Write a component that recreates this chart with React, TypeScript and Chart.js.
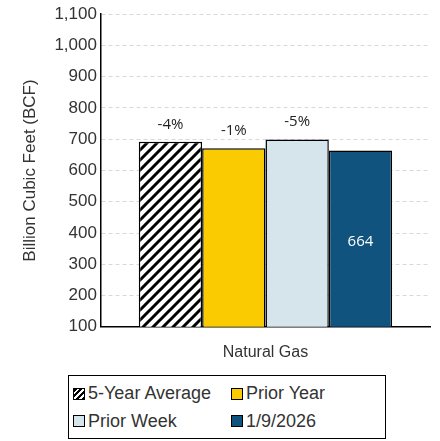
import { useEffect, useRef } from 'react';
import Chart from 'chart.js/auto';

const categories = ['Natural Gas'];
const seriesNames = ['5-Year Average', 'Prior Year', 'Prior Week', '1/9/2026'];
const seriesValues = [692, 671, 699, 664];
const seriesLabels = ['-4%', '-1%', '-5%', '664'];
const seriesColors = ['hatch', '#f9cb00', '#d6e4ec', '#0f537e'];

const FONT = '"Liberation Sans", Arial, sans-serif';

function makeHatch(): CanvasPattern | string {
    const c = document.createElement('canvas');
    c.width = 10; c.height = 10;
    const g = c.getContext('2d');
    if (!g) return '#000';
    g.fillStyle = '#fff';
    g.fillRect(0, 0, 10, 10);
    g.strokeStyle = '#000';
    g.lineWidth = 3;
    g.beginPath();
    g.moveTo(-2, 12); g.lineTo(12, -2);
    g.moveTo(-7, 7); g.lineTo(7, -7);
    g.moveTo(3, 17); g.lineTo(17, 3);
    g.stroke();
    return g.createPattern(c, 'repeat') || '#000';
}

const labelPlugin = {
    id: 'barLabels',
    afterDatasetsDraw(chart: any) {
        const ctx = chart.ctx;
        ctx.save();
        ctx.textAlign = 'center';
        chart.data.datasets.forEach((ds: any, i: number) => {
            const bar = chart.getDatasetMeta(i).data[0];
            if (!bar) return;
            if (i === 3) {
                ctx.fillStyle = '#fff';
                ctx.font = '15px "Open Sans", sans-serif';
                ctx.textBaseline = 'middle';
                ctx.fillText(seriesLabels[i], bar.x, 242);
            } else {
                ctx.fillStyle = '#222';
                ctx.font = '15px "Open Sans", sans-serif';
                ctx.textBaseline = 'bottom';
                ctx.fillText(seriesLabels[i], bar.x, bar.y - 10);
            }
        });
        ctx.restore();
    }
};

const BarChart = () => {
    const chartRef = useRef<HTMLCanvasElement>(null);
    const chartInstance = useRef<Chart | null>(null);

    useEffect(() => {
        if (!chartRef.current) return;
        if (chartInstance.current) chartInstance.current.destroy();
        const ctx = chartRef.current.getContext('2d');
        if (!ctx) return;
        const hatch = makeHatch();

        chartInstance.current = new Chart(ctx, {
            type: 'bar',
            data: {
                labels: categories,
                datasets: seriesNames.map((name, i) => ({
                    label: name,
                    data: [seriesValues[i]],
                    backgroundColor: seriesColors[i] === 'hatch' ? hatch : seriesColors[i],
                    borderColor: '#000',
                    borderWidth: 1.5,
                    borderSkipped: 'bottom',
                    categoryPercentage: 0.77,
                    barPercentage: 1
                })) as any
            },
            options: {
                animation: false,
                responsive: false,
                layout: { padding: { top: 10, right: 10, left: 16 } },
                plugins: { legend: { display: false }, tooltip: { enabled: false } },
                scales: {
                    x: {
                        grid: { display: false },
                        border: { color: '#000', width: 1.5 },
                        ticks: { color: '#333', font: { family: FONT, size: 16 }, padding: 8 }
                    },
                    y: {
                        min: 100,
                        max: 1100,
                        ticks: {
                            stepSize: 100,
                            color: '#333',
                            font: { family: FONT, size: 17 },
                            padding: 4,
                            callback: (v: any) => Number(v).toLocaleString('en-US')
                        },
                        grid: { color: '#d9d9d9', drawTicks: false },
                        border: { color: '#000', width: 1.5, dash: [4, 3] } as any,
                        title: {
                            display: true,
                            text: 'Billion Cubic Feet (BCF)',
                            color: '#333',
                            font: { family: FONT, size: 17 },
                            padding: { top: 4, bottom: 10 }
                        }
                    }
                }
            },
            plugins: [labelPlugin]
        });

        return () => {
            if (chartInstance.current) chartInstance.current.destroy();
        };
    }, []);

    const legendItem = (i: number) => (
        <span style={{ display: 'inline-flex', alignItems: 'center', width: i % 2 === 0 ? 158 : 140 }}>
            <span style={{
                display: 'inline-block', width: 10, height: 10, marginRight: 3,
                border: '1.5px solid #000',
                background: seriesColors[i] === 'hatch'
                    ? 'repeating-linear-gradient(-45deg,#000 0 2px,#fff 2px 4px)'
                    : seriesColors[i]
            }} />
            {seriesNames[i]}
        </span>
    );

    return (
        <div style={{ position: 'absolute', left: 0, top: 0, width: 440, height: 441, background: '#fff' }}>
            <canvas ref={chartRef} width={440} height={370} style={{ position: 'absolute', left: 0, top: 0 }}></canvas>
            <div style={{
                position: 'absolute', left: 68, top: 375, width: 318, height: 64,
                border: '1.5px solid #000', fontFamily: FONT, fontSize: 18, color: '#333',
                padding: '4px 0 0 4px', boxSizing: 'border-box', lineHeight: '27px'
            }}>
                <div>{legendItem(0)}{legendItem(1)}</div>
                <div>{legendItem(2)}{legendItem(3)}</div>
            </div>
        </div>
    );
};

export default function App() {
    return <BarChart />;
}
